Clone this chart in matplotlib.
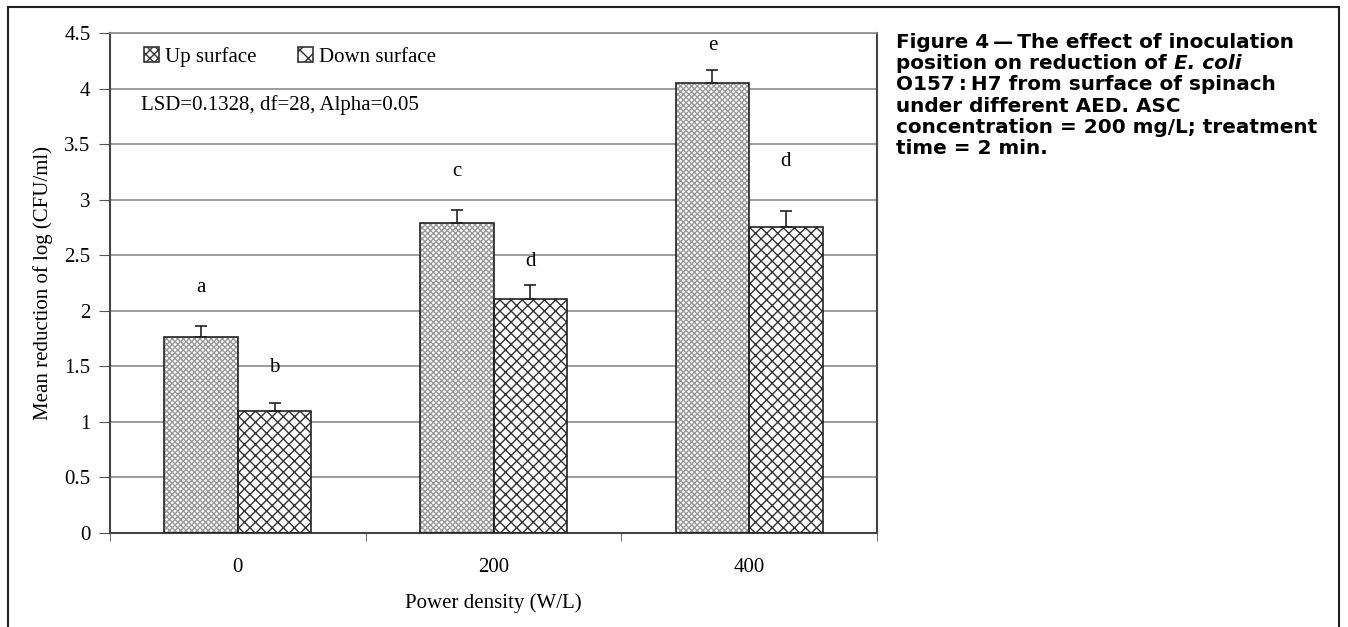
import matplotlib
matplotlib.use('Agg')
import matplotlib.pyplot as plt
import numpy as np
from matplotlib.patches import Rectangle

# data
power = ['0', '200', '400']
up_vals = [1.76, 2.79, 4.05]
up_err = [0.10, 0.12, 0.12]
down_vals = [1.10, 2.11, 2.75]
down_err = [0.07, 0.12, 0.15]
up_letters = ['a', 'c', 'e']
up_letter_y = [2.21, 3.25, 4.39]
down_letters = ['b', 'd', 'd']
down_letter_y = [1.49, 2.44, 3.34]

# caption lines, (text, italic) pieces
caption_lines = [
    [("Figure 4\u2009\u2014\u2009The effect of inoculation", False)],
    [("position on reduction of ", False), ("E. coli", True)],
    [("O157\u2009:\u2009H7 from surface of spinach", False)],
    [("under different AED. ASC", False)],
    [("concentration = 200 mg/L; treatment", False)],
    [("time = 2 min.", False)],
]

plt.rcParams['font.family'] = 'Liberation Serif'
plt.rcParams['font.size'] = 15

fig = plt.figure(figsize=(13.48, 6.27), dpi=100)
ax = fig.add_axes([0.0816, 0.150, 0.569, 0.7974])

x = np.arange(len(power))
w = 0.288

# hatched fills (gray pattern), then black outlines on top
ax.bar(x - w/2, up_vals, w, color='white', edgecolor='#9a9a9a', hatch='xxxxxx', lw=0, zorder=2)
ax.bar(x + w/2, down_vals, w, color='white', edgecolor='#333333', hatch='xxx', lw=0, zorder=2)
b1 = ax.bar(x - w/2, up_vals, w, fill=False, edgecolor='#222222', lw=1.2, zorder=3)
b2 = ax.bar(x + w/2, down_vals, w, fill=False, edgecolor='#222222', lw=1.2, zorder=3)

ax.errorbar(x - w/2, up_vals, yerr=[[0]*3, up_err], fmt='none', ecolor='#222222',
            capsize=4, elinewidth=1.2, capthick=1.2, zorder=4)
ax.errorbar(x + w/2, down_vals, yerr=[[0]*3, down_err], fmt='none', ecolor='#222222',
            capsize=4, elinewidth=1.2, capthick=1.2, zorder=4)

for i in range(len(power)):
    ax.text(x[i] - w/2, up_letter_y[i], up_letters[i], ha='center', va='center', fontsize=15)
    ax.text(x[i] + w/2, down_letter_y[i], down_letters[i], ha='center', va='center', fontsize=15)

ax.set_xlim(-0.5, 2.5)
ax.set_ylim(0, 4.5)
ax.set_yticks(np.arange(0, 4.51, 0.5))
ax.set_yticklabels(['0', '0.5', '1', '1.5', '2', '2.5', '3', '3.5', '4', '4.5'])
ax.set_xticks(x)
ax.set_xticklabels(power)
ax.set_xticks([-0.5, 0.5, 1.5, 2.5], minor=True)
ax.tick_params(axis='x', which='major', length=0, pad=18)
ax.tick_params(axis='x', which='minor', length=6, direction='out', color='#555555')
ax.tick_params(axis='y', length=8, direction='out', color='#555555', pad=6)
ax.grid(axis='y', color='#8c8c8c', lw=1.2, zorder=0)
ax.set_axisbelow(True)

for s in ['left', 'bottom', 'right']:
    ax.spines[s].set_color('#444444')
    ax.spines[s].set_linewidth(1.5)
ax.spines['top'].set_color('#8c8c8c')
ax.spines['top'].set_linewidth(1.2)

ax.set_xlabel('Power density (W/L)', labelpad=12)
ax.set_ylabel('Mean reduction of log (CFU/ml)', labelpad=8)

ax.legend([b1, b2], ['Up surface', 'Down surface'], loc='upper left', ncol=2,
          frameon=False, bbox_to_anchor=(0.02, 1.01), handlelength=0.7, handleheight=0.7,
          handletextpad=0.3, columnspacing=2.0, fontsize=15)
leg = ax.get_legend()
for h, hp in zip(leg.legend_handles, ['xxxx', 'xx']):
    h.set_hatch(hp)
    h.set_edgecolor('#333333')

ax.text(0.04, 0.855, 'LSD=0.1328, df=28, Alpha=0.05', transform=ax.transAxes,
        ha='left', va='center', fontsize=15)

# caption, one line at a time so the species name can be italic
renderer = fig.canvas.get_renderer()
cap_x0 = 896 / 1348
cap_y0 = 1 - 48 / 627
pitch = 21.2 / 627
for i, pieces in enumerate(caption_lines):
    cx = cap_x0
    for txt, ital in pieces:
        t = fig.text(cx, cap_y0 - i * pitch, txt, ha='left', va='baseline', fontsize=14.4,
                     fontweight='bold', family='DejaVu Sans',
                     style='italic' if ital else 'normal')
        bb = t.get_window_extent(renderer)
        cx = cx + bb.width / fig.bbox.width

fig.patches.append(Rectangle((0.006, -0.05), 0.9875, 1.039, transform=fig.transFigure,
                             fill=False, edgecolor='#222222', lw=1.5))

fig.savefig('out.png', dpi=100)
